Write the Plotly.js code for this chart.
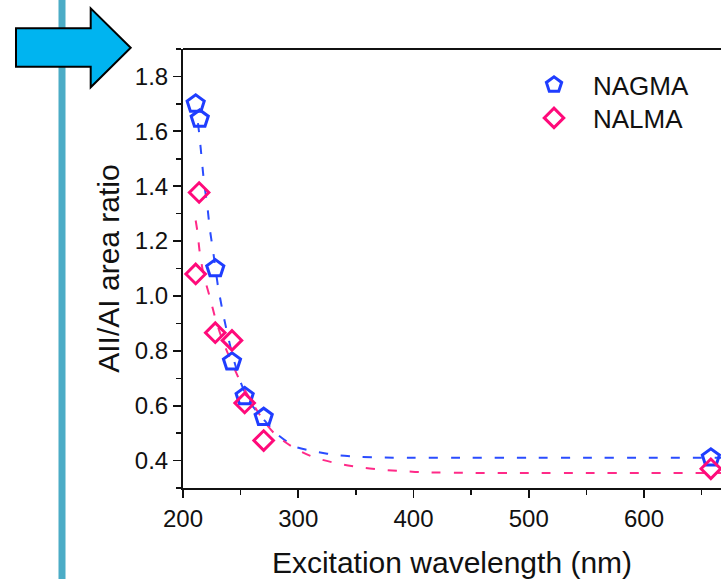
<!DOCTYPE html>
<html>
<head>
<meta charset="utf-8">
<script src="https://cdn.plot.ly/plotly-3.0.1.min.js"></script>
<style>
  html, body { margin: 0; padding: 0; background: #ffffff; overflow: hidden; }
  #chart { width: 721px; height: 579px; }
</style>
</head>
<body>
<div id="chart"></div>
<script>
// ---- data ----
const seriesNames = ["NAGMA", "NALMA"];

const wavelengthNAGMA = [211, 214.5, 228, 242.5, 253.5, 270, 658];
const ratioNAGMA      = [1.70, 1.645, 1.10, 0.76, 0.634, 0.558, 0.41];

const wavelengthNALMA = [211, 214, 228, 242.5, 253.5, 270, 658];
const ratioNALMA      = [1.08, 1.377, 0.866, 0.838, 0.61, 0.473, 0.37];

// dashed fit curves
const fitWavelengthNAGMA = [213, 214.5, 216.5, 218.2, 221.2, 223.2, 226, 230.4, 235.3, 242, 249.2, 257.3, 270, 281, 297.5, 315.7, 334.5, 354, 373.5, 400, 450, 500, 550, 600, 667];
const fitRatioNAGMA      = [1.63, 1.575, 1.488, 1.416, 1.325, 1.246, 1.167, 1.034, 0.925, 0.80, 0.695, 0.616, 0.55, 0.498, 0.450, 0.432, 0.419, 0.413, 0.411, 0.41, 0.41, 0.41, 0.41, 0.41, 0.41];

const fitWavelengthNALMA = [211, 212.5, 214.5, 218, 223.2, 228.4, 235, 242, 250, 260.2, 270, 281, 297.5, 314.8, 334.5, 352, 372, 391, 411, 450, 500, 550, 600, 667];
const fitRatioNALMA      = [1.275, 1.235, 1.16, 1.075, 0.997, 0.913, 0.83, 0.761, 0.685, 0.61, 0.545, 0.491, 0.443, 0.410, 0.389, 0.376, 0.367, 0.361, 0.357, 0.355, 0.355, 0.355, 0.355, 0.355];

const xTickVals = [200, 300, 400, 500, 600];
const yTickVals = [0.4, 0.6, 0.8, 1.0, 1.2, 1.4, 1.6, 1.8];

// ---- styling ----
const BLUE = "#1f3dff";
const PINK = "#ff0a7a";
const FONT = "Liberation Sans, Arial, sans-serif";

// plot-area geometry in pixels (for decorative shapes / legend placement)
const L = 183, T = 49, W = 538, H = 439;
const px = (x) => (x - L) / W;
const py = (y) => (T + H - y) / H;

const traces = [
  {
    x: fitWavelengthNAGMA, y: fitRatioNAGMA, mode: "lines", showlegend: false, hoverinfo: "skip",
    line: { color: "#2a4cff", width: 2, dash: "9px,13px", shape: "spline", smoothing: 0.6 }
  },
  {
    x: fitWavelengthNALMA, y: fitRatioNALMA, mode: "lines", showlegend: false, hoverinfo: "skip",
    line: { color: "#ff2a88", width: 2, dash: "9px,13px", shape: "spline", smoothing: 0.6 }
  },
  {
    x: wavelengthNAGMA, y: ratioNAGMA, name: seriesNames[0], mode: "markers", cliponaxis: false,
    legend: "legend",
    marker: { symbol: "pentagon-open", size: 18, color: BLUE, line: { width: 3, color: BLUE } }
  },
  {
    x: wavelengthNALMA, y: ratioNALMA, name: seriesNames[1], mode: "markers", cliponaxis: false,
    legend: "legend2",
    marker: { symbol: "diamond-open", size: 15, color: PINK, line: { width: 3, color: PINK } }
  }
];

const arrowPts = [[16, 28.3], [90.7, 28.3], [90.7, 8.3], [130.7, 47.7], [90.7, 87.3], [90.7, 66.7], [16, 66.7]];
const arrowPath = arrowPts.map((p, i) => (i ? "L" : "M") + px(p[0]).toFixed(5) + "," + py(p[1]).toFixed(5)).join(" ") + " Z";

const legendBase = {
  xanchor: "left", yanchor: "middle", itemwidth: 68,
  bgcolor: "rgba(0,0,0,0)", borderwidth: 0,
  font: { family: FONT, size: 26, color: "#111111" }
};

const layout = {
  width: 721, height: 579,
  margin: { l: L, r: 721 - L - W, t: T, b: 579 - T - H, pad: 0 },
  paper_bgcolor: "#ffffff", plot_bgcolor: "#ffffff",
  font: { family: FONT, color: "#111111", size: 24 },
  showlegend: true,
  legend: Object.assign({}, legendBase, { x: px(515), y: py(85) }),
  legend2: Object.assign({}, legendBase, { x: px(515), y: py(118) }),
  xaxis: {
    range: [200, 200 + W / 1.1525],
    tickvals: xTickVals,
    ticks: "outside", ticklen: 8, tickwidth: 1.8, tickcolor: "#111",
    minor: { dtick: 50, tick0: 200, ticks: "outside", ticklen: 5, tickwidth: 1.5, tickcolor: "#111" },
    showline: true, linecolor: "#111", linewidth: 2,
    showgrid: false, zeroline: false,
    tickfont: { family: FONT, size: 24, color: "#111" },
    title: { text: "Excitation wavelength (nm)", font: { family: FONT, size: 30, color: "#111" }, standoff: 24 },
    automargin: false
  },
  yaxis: {
    range: [0.3, 1.9],
    tickvals: yTickVals, tickformat: ".1f",
    ticks: "outside", ticklen: 8, tickwidth: 1.8, tickcolor: "#111",
    minor: { dtick: 0.1, tick0: 0.3, ticks: "outside", ticklen: 5, tickwidth: 1.5, tickcolor: "#111" },
    showline: true, linecolor: "#111", linewidth: 2,
    showgrid: false, zeroline: false,
    tickfont: { family: FONT, size: 24, color: "#111" },
    title: { text: "AII/AI area ratio", font: { family: FONT, size: 30, color: "#111" }, standoff: 6 },
    automargin: false
  },
  shapes: [
    { type: "line", xref: "paper", yref: "paper", x0: px(62), x1: px(62), y0: py(-10), y1: py(590),
      line: { color: "#4bacc6", width: 7 }, layer: "above" },
    { type: "path", xref: "paper", yref: "paper", path: arrowPath,
      fillcolor: "#00b4f0", line: { color: "#000000", width: 2 }, layer: "above" },
    { type: "line", xref: "paper", yref: "paper", x0: 0, x1: 1, y0: 1, y1: 1,
      line: { color: "#111", width: 2 }, layer: "above" }
  ]
};

Plotly.newPlot("chart", traces, layout, { displayModeBar: false, staticPlot: true });
</script>
</body>
</html>
